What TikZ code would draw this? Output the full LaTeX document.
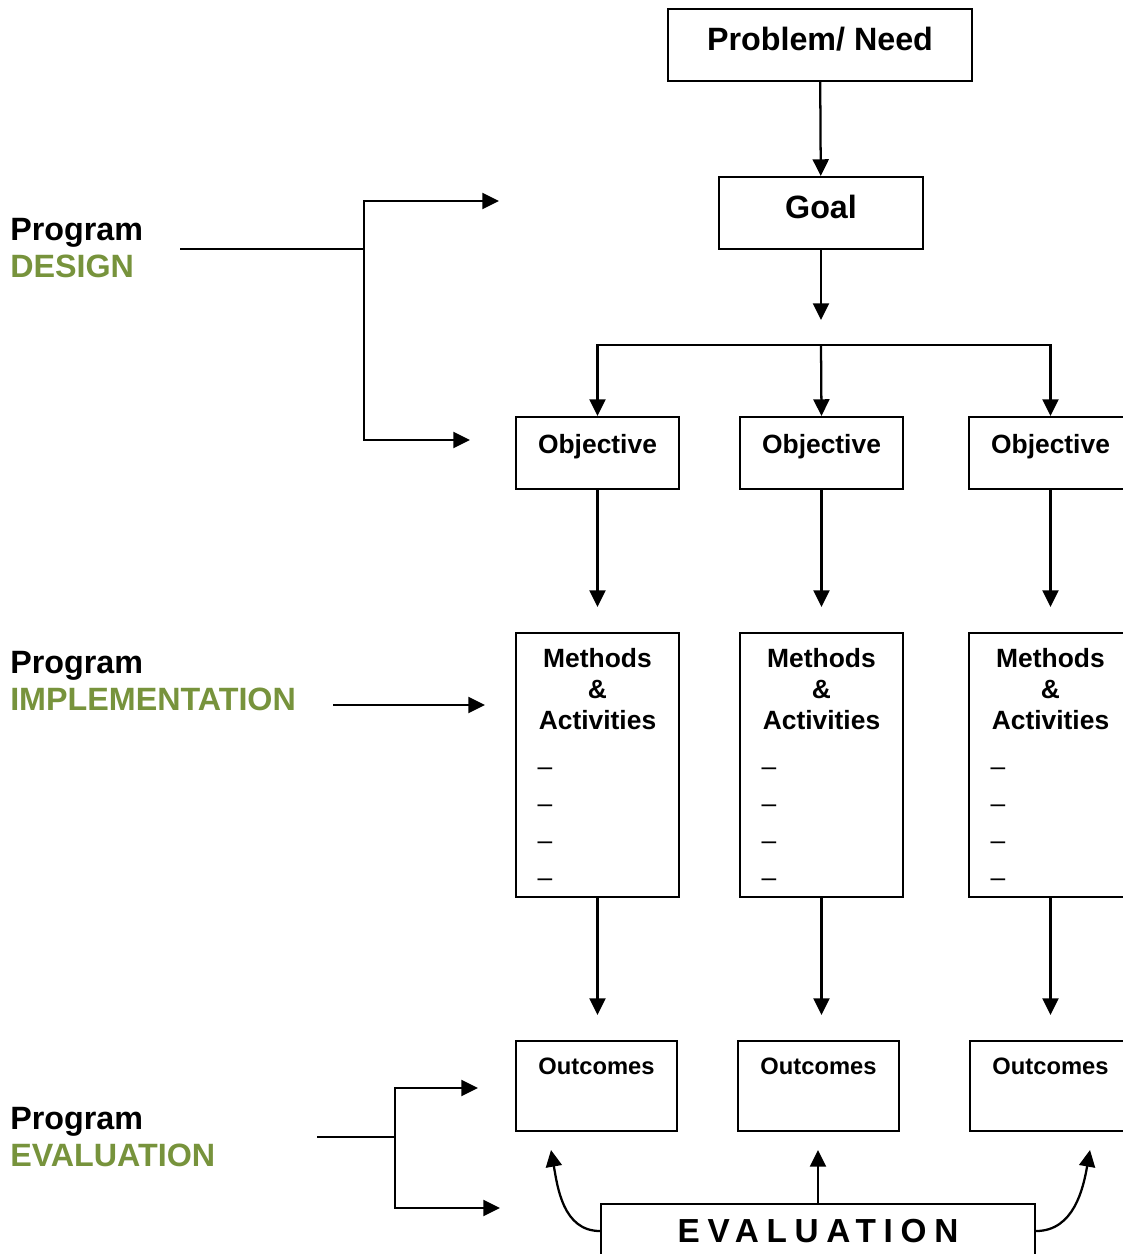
\documentclass[tikz,border=0pt]{standalone}
\usepackage{fontspec}
\setmainfont{Liberation Sans}
\usetikzlibrary{arrows.meta}
\definecolor{progreen}{RGB}{119,147,60}
\newcommand\dashln{{\mdseries–}\hfill\mbox{}}
\tikzset{
  box/.style={draw, line width=1.6pt, inner sep=0pt},
  ttl/.style={anchor=north, inner sep=0pt, yshift=-#1},
  ln/.style={line width=1.7pt, line cap=rect},
  arr/.style={line width=1.7pt, -{Triangle[length=12.5pt,width=12pt]}},
  gap/.style={shorten >=18.75pt},
  bigtxt/.style={font=\fontsize{24.2}{28}\selectfont\bfseries},
  midtxt/.style={font=\fontsize{19.8}{23.25}\selectfont\bfseries},
  smalltxt/.style={font=\fontsize{17.8}{21}\selectfont\bfseries},
  evaltxt/.style={font=\fontsize{25}{28}\selectfont\bfseries\addfontfeatures{LetterSpace=23}},
  side/.style={anchor=base west, inner sep=0pt, bigtxt},
}
\begin{document}
\begin{tikzpicture}[x=0.75pt, y=-0.75pt]
      \useasboundingbox (0,0) rectangle (1123,1254);
      \clip (0,0) rectangle (1123,1254);
      % left side
      \node[side] (dsg1) at (10,240) {Program};
      \node[side, text=progreen] (dsg2) at (10,277) {DESIGN};
      \node[side] (imp1) at (10,673) {Program};
      \node[side, text=progreen] (imp2) at (10,710) {IMPLEMENTATION};
      \node[side] (evl1) at (10,1129) {Program};
      \node[side, text=progreen] (evl2) at (10,1166) {EVALUATION};
      \coordinate (dsgin) at (181,249);
      \coordinate (dsgbar) at (364,249);
      \coordinate (dsgup) at (499,201);
      \coordinate (dsgdn) at (470,440);
      \coordinate (impin) at (333,705);
      \coordinate (impout) at (485,705);
      \coordinate (evlin) at (318,1137);
      \coordinate (evlbar) at (395,1137);
      \coordinate (evlup) at (478,1088);
      \coordinate (evldn) at (500,1208);
      % main chart
      \node[box, minimum width=228pt, minimum height=54pt,
        label={[ttl=14.5pt, bigtxt]north:Problem/ Need}] (need) at (820,45) {};
      \node[box, minimum width=153pt, minimum height=54pt,
        label={[ttl=14.5pt, bigtxt]north:Goal}] (goal) at (821,213) {};
      \coordinate (goalend) at (821,320);
      \coordinate (split) at (821,345);
      \node[box, minimum width=122.25pt, minimum height=54pt,
        label={[ttl=13.9pt, midtxt]north:Objective}] (obj1) at (597.5,453) {};
      \node[box, minimum width=122.25pt, minimum height=54pt,
        label={[ttl=13.9pt, midtxt]north:Objective}] (obj2) at (821.5,453) {};
      \node[box, minimum width=122.25pt, minimum height=54pt,
        label={[ttl=13.9pt, midtxt]north:Objective}] (obj3) at (1050.5,453) {};
      \node[box, minimum width=122.25pt, minimum height=198pt,
        label={[ttl=12.4pt, midtxt, align=center, text width=90pt]north:{Methods\\\&\\Activities\\[11pt]\dashln\\[4.5pt]\dashln\\[4.5pt]\dashln\\[4.5pt]\dashln}}] (meth1) at (597.5,765) {};
      \node[box, minimum width=122.25pt, minimum height=198pt,
        label={[ttl=12.4pt, midtxt, align=center, text width=90pt]north:{Methods\\\&\\Activities\\[11pt]\dashln\\[4.5pt]\dashln\\[4.5pt]\dashln\\[4.5pt]\dashln}}] (meth2) at (821.5,765) {};
      \node[box, minimum width=122.25pt, minimum height=198pt,
        label={[ttl=12.4pt, midtxt, align=center, text width=90pt]north:{Methods\\\&\\Activities\\[11pt]\dashln\\[4.5pt]\dashln\\[4.5pt]\dashln\\[4.5pt]\dashln}}] (meth3) at (1050.5,765) {};
      \node[box, minimum width=120.75pt, minimum height=67.5pt,
        label={[ttl=13.1pt, smalltxt]north:Outcomes}] (out1) at (596.5,1086) {};
      \node[box, minimum width=120.75pt, minimum height=67.5pt,
        label={[ttl=13.1pt, smalltxt]north:Outcomes}] (out2) at (818.5,1086) {};
      \node[box, minimum width=120.75pt, minimum height=67.5pt,
        label={[ttl=13.1pt, smalltxt]north:Outcomes}] (out3) at (1050.5,1086) {};
      \node[box, minimum width=325.5pt, minimum height=40.5pt, evaltxt] (evalbox) at (818,1231) {EVALUATION};
      \coordinate (evlft) at (551,1150);
      \coordinate (evmid) at (818,1150);
      \coordinate (evrgt) at (1090,1150);
      \begin{scope}[ln]
        \draw (dsgin) -- (dsgbar);
        \draw (evlin) -- (evlbar);
        \draw (obj1.north |- split) -- (obj3.north |- split);
      \end{scope}
      \begin{scope}[arr]
        \draw (dsgbar) |- (dsgup);
        \draw (dsgbar) |- (dsgdn);
        \draw (impin) -- (impout);
        \draw (evlbar) |- (evlup);
        \draw (evlbar) |- (evldn);
        \draw (need) -- (goal);
        \draw (goal) -- (goalend);
        \draw (obj1.north |- split) -- (obj1.north);
        \draw (split) -- (obj2.north);
        \draw (obj3.north |- split) -- (obj3.north);
        \draw[gap] (obj1.south) -- (obj1.south |- meth1.north);
        \draw[gap] (obj2.south) -- (obj2.south |- meth2.north);
        \draw[gap] (obj3.south) -- (obj3.south |- meth3.north);
        \draw[gap] (meth1.south) -- (meth1.south |- out1.north);
        \draw[gap] (meth2.south) -- (meth2.south |- out2.north);
        \draw[gap] (meth3.south) -- (meth3.south |- out3.north);
        \draw (evalbox.west) to[out=180, in=-80] (evlft);
        \draw (evalbox.north) -- (evmid);
        \draw (evalbox.east) to[out=0, in=-100] (evrgt);
      \end{scope}
    \end{tikzpicture}
\end{document}
